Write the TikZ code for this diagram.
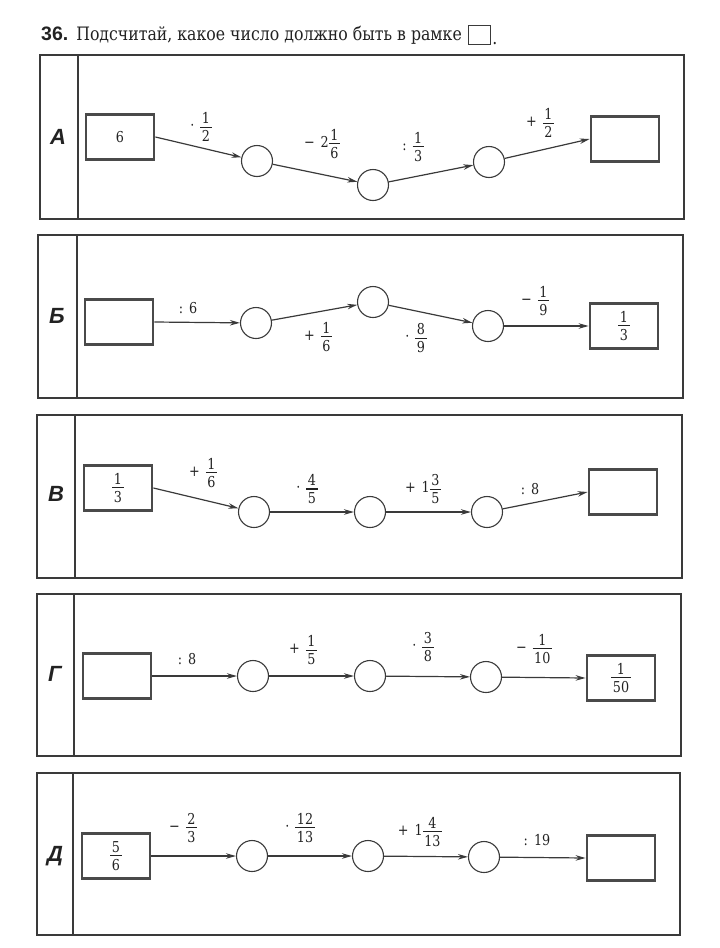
\documentclass[tikz,border=0pt]{standalone}
\usepackage{fontspec}
\setmainfont{DejaVu Serif}
\setsansfont{Liberation Sans}
\newfontfamily\nf{DejaVu Serif}[FakeStretch=0.85]
\usetikzlibrary{arrows.meta}
\definecolor{lc}{HTML}{3A3A3A}
\definecolor{bc}{HTML}{4A4A4A}
\definecolor{tc}{HTML}{222222}
\newcommand{\fs}{\nf\fontsize{15}{17}\selectfont}
\newcommand{\fr}[2]{\ensuremath{\vcenter{\offinterlineskip\halign{\hfil\hskip1.5pt##\hskip1.5pt\hfil\cr #1\cr\noalign{\kern3pt\hrule height 1pt\kern3pt}#2\cr}}}}
\newcommand{\myop}[2]{#1\hspace{6pt}#2}
\begin{document}
\begin{tikzpicture}[x=1pt,y=-1pt,
  frame/.style={draw=lc, line width=1.4pt},
  valbox/.style={draw=bc, line width=2.8pt, minimum width=68pt, minimum height=45pt, inner sep=0pt, font=\fs, text=tc},
  blank/.style={circle, draw=lc, line width=1.1pt, minimum size=31pt, inner sep=0pt},
  arr/.style={-{Stealth[length=10pt,width=5.5pt]}, line width=1.2pt, draw=lc},
  op/.style={font=\fs, inner sep=0pt, text=tc},
  letter/.style={font=\sffamily\bfseries\itshape\fontsize{22}{24}\selectfont, text=tc}]
\useasboundingbox (0,0) rectangle (720,948);
% title
\node[anchor=west, inner sep=0pt, text=tc] (title) at (41,35)
  {{\sffamily\bfseries\fontsize{19.5}{22}\selectfont 36.}\hspace{8pt}{\nf\fontsize{18.5}{21}\selectfont Подсчитай, какое число должно быть в рамке}};
\node[draw=lc, line width=1.2pt, minimum width=22pt, minimum height=19pt, inner sep=0pt, anchor=west] (tbox) at ([xshift=6pt]title.east) {};
\node[anchor=south west, inner sep=0pt, font=\nf\fontsize{18.5}{21}\selectfont, text=tc] (tdot) at ([xshift=1pt]tbox.south east) {.};
% frames
\draw[frame] (40,55) rectangle (684,219) (78,55) -- (78,219);
\draw[frame] (38,235) rectangle (683,398) (77,235) -- (77,398);
\draw[frame] (37,415) rectangle (682,578) (75,415) -- (75,578);
\draw[frame] (37,594) rectangle (681,756) (74,594) -- (74,756);
\draw[frame] (37,773) rectangle (680,935) (73,773) -- (73,935);
% letters
\node[letter] (LA) at (58,137) {А};
\node[letter] (LB) at (57,316) {Б};
\node[letter] (LV) at (56,494) {В};
\node[letter] (LG) at (55,674) {Г};
\node[letter] (LD) at (55,856) {Д};
% Panel A
\node[valbox] (a0) at (120,137) {6};
\node[blank] (a1) at (257,161) {};
\node[blank] (a2) at (373,185) {};
\node[blank] (a3) at (489,162) {};
\node[valbox] (a4) at (625,139) {};
\draw[arr] (a0.east) -- (a1);
\draw[arr] (a1) -- (a2);
\draw[arr] (a2) -- (a3);
\draw[arr] (a3) -- (a4.west);
\node[op] (la1) at (201,127) {\myop{·}{\fr{1}{2}}};
\node[op] (la2) at (322,144) {\myop{−}{2\fr{1}{6}}};
\node[op] (la3) at (413,147) {\myop{:}{\fr{1}{3}}};
\node[op] (la4) at (540,123) {\myop{+}{\fr{1}{2}}};
% Panel B
\node[valbox] (b0) at (119,322) {};
\node[blank] (b1) at (256,323) {};
\node[blank] (b2) at (373,302) {};
\node[blank] (b3) at (488,326) {};
\node[valbox] (b4) at (624,326) {\fr{1}{3}};
\draw[arr] (b0.east) -- (b1);
\draw[arr] (b1) -- (b2);
\draw[arr] (b2) -- (b3);
\draw[arr] (b3) -- (b4.west);
\node[op] (lb1) at (188,308) {\myop{:}{6}};
\node[op] (lb2) at (318,337) {\myop{+}{\fr{1}{6}}};
\node[op] (lb3) at (416,338) {\myop{·}{\fr{8}{9}}};
\node[op] (lb4) at (535,301) {\myop{−}{\fr{1}{9}}};
% Panel V
\node[valbox] (v0) at (118,488) {\fr{1}{3}};
\node[blank] (v1) at (254,512) {};
\node[blank] (v2) at (370,512) {};
\node[blank] (v3) at (487,512) {};
\node[valbox] (v4) at (623,492) {};
\draw[arr] (v0.east) -- (v1);
\draw[arr] (v1) -- (v2);
\draw[arr] (v2) -- (v3);
\draw[arr] (v3) -- (v4.west);
\node[op] (lv1) at (203,473) {\myop{+}{\fr{1}{6}}};
\node[op] (lv2) at (307,489) {\myop{·}{\fr{4}{5}}};
\node[op] (lv3) at (423,489) {\myop{+}{1\fr{3}{5}}};
\node[op] (lv4) at (530,489) {\myop{:}{8}};
% Panel G
\node[valbox] (g0) at (117,676) {};
\node[blank] (g1) at (253,676) {};
\node[blank] (g2) at (370,676) {};
\node[blank] (g3) at (486,677) {};
\node[valbox] (g4) at (621,678) {\fr{1}{50}};
\draw[arr] (g0.east) -- (g1);
\draw[arr] (g1) -- (g2);
\draw[arr] (g2) -- (g3);
\draw[arr] (g3) -- (g4.west);
\node[op] (lg1) at (187,659) {\myop{:}{8}};
\node[op] (lg2) at (303,650) {\myop{+}{\fr{1}{5}}};
\node[op] (lg3) at (423,647) {\myop{·}{\fr{3}{8}}};
\node[op] (lg4) at (534,649) {\myop{−}{\fr{1}{10}}};
% Panel D
\node[valbox] (d0) at (116,856) {\fr{5}{6}};
\node[blank] (d1) at (252,856) {};
\node[blank] (d2) at (368,856) {};
\node[blank] (d3) at (484,857) {};
\node[valbox] (d4) at (621,858) {};
\draw[arr] (d0.east) -- (d1);
\draw[arr] (d1) -- (d2);
\draw[arr] (d2) -- (d3);
\draw[arr] (d3) -- (d4.west);
\node[op] (ld1) at (183,828) {\myop{−}{\fr{2}{3}}};
\node[op] (ld2) at (300,828) {\myop{·}{\fr{12}{13}}};
\node[op] (ld3) at (420,832) {\myop{+}{1\fr{4}{13}}};
\node[op] (ld4) at (537,840) {\myop{:}{19}};
\end{tikzpicture}
\end{document}
